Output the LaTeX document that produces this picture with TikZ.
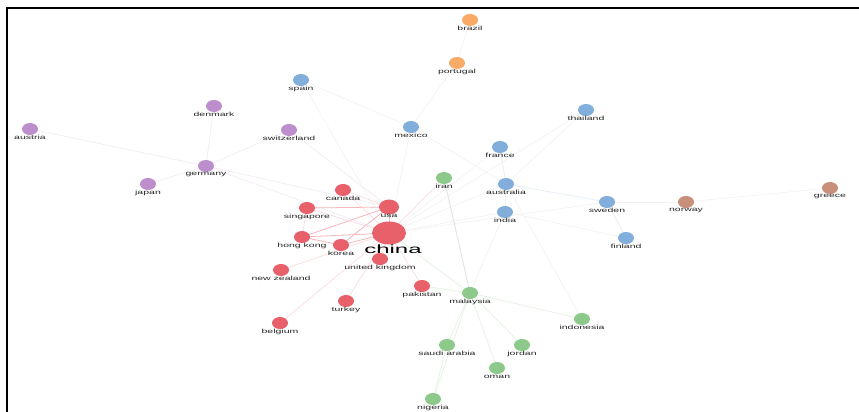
\documentclass[tikz,border=0pt]{standalone}
\usepackage{fontspec}
\setmainfont{Liberation Sans}
\usetikzlibrary{shapes.geometric}
\definecolor{cred}{HTML}{E8606A}
\definecolor{cblue}{HTML}{82AEDC}
\definecolor{cgreen}{HTML}{8DC98A}
\definecolor{cpurple}{HTML}{BC8ECB}
\definecolor{corange}{HTML}{F8AA66}
\definecolor{cbrown}{HTML}{C8907A}
\tikzset{
  dot/.style={ellipse, inner sep=0pt, minimum width=16pt, minimum height=12pt, draw=none},
  lbl/.style={inner sep=0pt, font=\fontsize{6}{6}\selectfont, text=black!85},
  ered/.style={draw=cred!22, line width=0.7pt},
  eredd/.style={draw=cred!45, line width=0.8pt},
  egrey/.style={draw=black!10, line width=1pt},
  egreen/.style={draw=cgreen!22, line width=0.8pt},
  eblue/.style={draw=cblue!22, line width=0.7pt},
  epurple/.style={draw=cpurple!18, line width=0.7pt},
  efaint/.style={draw=black!5, line width=0.6pt},
}
\newcommand\wide[1]{\scalebox{1.75}[1]{#1}}
\newcommand\cn[6]{%
  \node[dot, fill=#4, #6] (#1) at (#2,#3) {};
  \node[lbl] (#1l) at ([yshift=-8.5pt]#1.center) {\wide{#5}};}
\begin{document}
\begin{tikzpicture}[x=1pt,y=-1pt]
\useasboundingbox (0,0) rectangle (859,412);
\fill[white] (0,0) rectangle (859,412);
% frame
\draw[line width=2pt, black] (7,412) -- (7,8.5) -- (859,8.5);
\foreach \n/\x/\y in {brazil/470/20, portugal/457/63, spain/301/80, denmark/214/106,
  switzerland/289/130, austria/30/129, germany/206/166, japan/148/184, mexico/411/127,
  thailand/586/110, france/500/147, iran/444/178, australia/506/184, india/505/212,
  sweden/607/202, norway/686/202, greece/830/188, finland/626/238, canada/343/190,
  usa/389/207, singapore/307/208, hongkong/302/237, korea/341/245, china/389/233,
  uk/380/259, newzealand/281/270, pakistan/422/286, malaysia/470/293, turkey/346/301,
  belgium/280/323, indonesia/582/319, saudi/447/345, jordan/522/345, oman/497/368,
  nigeria/433/399}
  {\coordinate (c\n) at (\x,\y);}
% faint long edges
\draw[efaint] (cbrazil) -- (cportugal);
\draw[efaint] (cportugal) -- (cmexico);
\draw[efaint] (cspain) -- (cmexico);
\draw[efaint] (cmexico) -- (caustralia);
\draw[efaint] (cmexico) -- (cchina);
\draw[efaint] (cthailand) -- (caustralia);
\draw[efaint] (cthailand) -- (cchina);
\draw[eblue] (cfrance) -- (caustralia);
\draw[eblue] (caustralia) -- (cindia);
\draw[eblue] (caustralia) -- (csweden);
\draw[eblue] (csweden) -- (cfinland);
\draw[efaint] (cindia) -- (cfinland);
\draw[efaint] (csweden) -- (cnorway);
\draw[efaint] (cnorway) -- (cgreece);
\draw[efaint] (cchina) -- (csweden);
\draw[efaint] (cchina) -- (caustralia);
\draw[efaint] (cchina) -- (cindia);
\draw[efaint] (cchina) -- (cfrance);
\draw[efaint] (cindia) -- (cmalaysia);
\draw[efaint] (caustralia) -- (cindonesia);
\draw[epurple] (cdenmark) -- (cgermany);
\draw[epurple] (cgermany) -- (cswitzerland);
\draw[epurple] (cgermany) -- (caustria);
\draw[epurple] (cgermany) -- (cjapan);
\draw[epurple] (cgermany) -- (cusa);
\draw[epurple] (cgermany) -- (cchina);
\draw[epurple] (cswitzerland) -- (cusa);
\draw[efaint] (cspain) -- (cchina);
\draw[egrey] (ciran) -- (cmalaysia);
\draw[egreen] (cmalaysia) -- (cindonesia);
\draw[egreen] (cmalaysia) -- (cjordan);
\draw[egreen] (cmalaysia) -- (csaudi);
\draw[egreen] (cmalaysia) -- (coman);
\draw[egreen] (cmalaysia) -- (cnigeria);
\draw[egreen] (csaudi) -- (cnigeria);
\draw[egreen] (cchina) -- (cmalaysia);
\draw[egreen] (cpakistan) -- (cmalaysia);
\draw[ered] (cchina) -- (cnewzealand);
\draw[ered] (cchina) -- (cturkey);
\draw[ered] (cchina) -- (cbelgium);
\draw[ered] (cchina) -- (cpakistan);
\draw[ered] (cchina) -- (cuk);
\draw[ered] (cchina) -- (ccanada);
\draw[ered] (cusa) -- (ccanada);
\draw[ered] (cchina) -- (ciran);
\draw[eredd] (cchina) -- (cusa);
\draw[eredd] (cchina) -- (chongkong);
\draw[eredd] (cusa) -- (chongkong);
\draw[eredd] (cusa) -- (csingapore);
\draw[eredd] (cusa) -- (ckorea);
\draw[ered] (cchina) -- (csingapore);
\draw[eredd] (chongkong) -- (ckorea);
\draw[ered] (csingapore) -- (chongkong);
\draw[eredd] (cchina) -- (ckorea);
% ---- nodes ----
\cn{brazil}{470}{20}{corange}{brazil}{}
\cn{portugal}{457}{63}{corange}{portugal}{}
\cn{spain}{301}{80}{cblue}{spain}{}
\cn{denmark}{214}{106}{cpurple}{denmark}{}
\cn{switzerland}{289}{130}{cpurple}{switzerland}{}
\cn{austria}{30}{129}{cpurple}{austria}{}
\cn{germany}{206}{166}{cpurple}{germany}{}
\cn{japan}{148}{184}{cpurple}{japan}{}
\cn{mexico}{411}{127}{cblue}{mexico}{}
\cn{thailand}{586}{110}{cblue}{thailand}{}
\cn{france}{500}{147}{cblue}{france}{}
\cn{iran}{444}{178}{cgreen}{iran}{}
\cn{australia}{506}{184}{cblue}{australia}{}
\cn{india}{505}{212}{cblue}{india}{}
\cn{sweden}{607}{202}{cblue}{sweden}{}
\cn{norway}{686}{202}{cbrown}{norway}{}
\cn{greece}{830}{188}{cbrown}{greece}{}
\cn{finland}{626}{238}{cblue}{finland}{}
\cn{canada}{343}{190}{cred}{canada}{}
\cn{usa}{389}{207}{cred}{usa}{minimum width=20pt, minimum height=15pt}
\cn{singapore}{307}{208}{cred}{singapore}{}
\cn{hongkong}{302}{237}{cred}{hong kong}{}
\cn{korea}{341}{245}{cred}{korea}{}
\node[dot, fill=cred, minimum width=34pt, minimum height=23pt] (china) at (389,233) {};
\node[lbl, font=\fontsize{12}{12}\selectfont, text=black] (chinal) at (393,249) {\scalebox{2}[1]{china}};
\cn{uk}{380}{259}{cred}{united kingdom}{}
\cn{newzealand}{281}{270}{cred}{new zealand}{}
\cn{pakistan}{422}{286}{cred}{pakistan}{}
\cn{malaysia}{470}{293}{cgreen}{malaysia}{}
\cn{turkey}{346}{301}{cred}{turkey}{}
\cn{belgium}{280}{323}{cred}{belgium}{}
\cn{indonesia}{582}{319}{cgreen}{indonesia}{}
\cn{saudi}{447}{345}{cgreen}{saudi arabia}{}
\cn{jordan}{522}{345}{cgreen}{jordan}{}
\cn{oman}{497}{368}{cgreen}{oman}{}
\cn{nigeria}{433}{399}{cgreen}{nigeria}{}
\end{tikzpicture}
\end{document}
